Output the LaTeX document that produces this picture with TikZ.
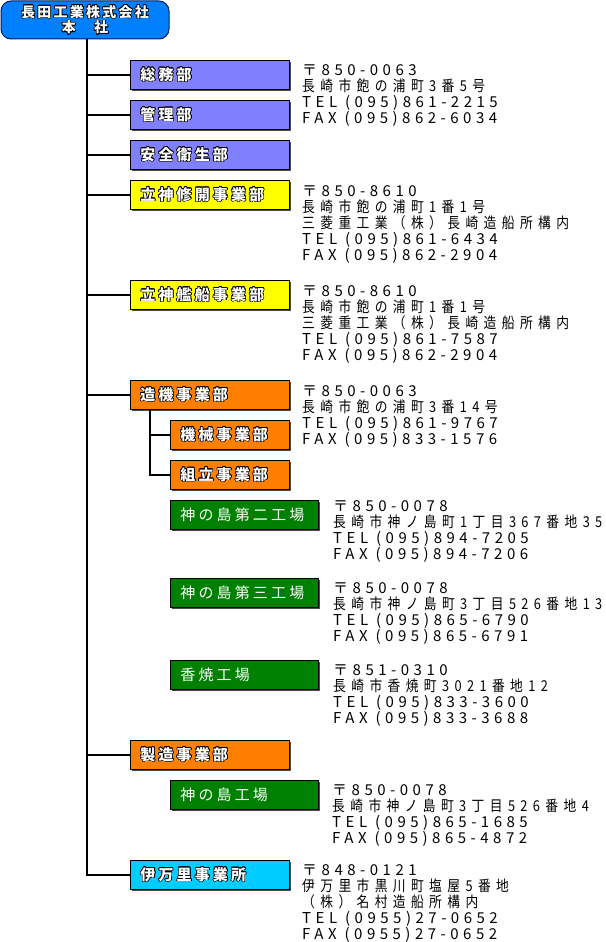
\documentclass[tikz,border=0pt]{standalone}
\usepackage{fontspec}
\usepackage{contour}
\usetikzlibrary{shadows}
\newfontfamily\addrfont[FakeStretch=0.85, LetterSpace=36]{Noto Sans CJK JP}
\newfontfamily\numfont[LetterSpace=30]{Noto Sans CJK JP}
\newfontfamily\labelfont[LetterSpace=21]{Noto Sans CJK JP}
\newfontfamily\headfont[LetterSpace=16]{Noto Sans CJK JP}
\contourlength{0.6pt}
\definecolor{headblue}{RGB}{0,128,255}
\definecolor{headline}{RGB}{0,32,96}
\definecolor{staffblue}{RGB}{128,128,255}
\definecolor{shipyellow}{RGB}{255,255,0}
\definecolor{machorange}{RGB}{255,128,0}
\definecolor{plantgreen}{RGB}{0,128,0}
\definecolor{imaricyan}{RGB}{0,204,255}
\newcommand\outl[1]{\contour{black}{#1}}
\newcommand\num[1]{{\numfont #1}}
\newcommand\tsp{\hspace{8pt}}
\tikzstyle{unit} = [draw=black, line width=0.8pt, minimum height=29pt, anchor=north west,
  inner xsep=10pt, inner ysep=0pt, align=left, text=white,
  font=\labelfont\bfseries\fontsize{15}{16}\selectfont,
  drop shadow={shadow xshift=1.2pt, shadow yshift=-1.2pt, fill=black!70, opacity=1}]
\tikzstyle{wide} = [unit, text width=139pt]
\tikzstyle{narrow} = [unit, text width=99pt]
\tikzstyle{plant} = [unit, text width=128pt, fill=plantgreen, font=\labelfont\fontsize{15}{16}\selectfont]
\tikzstyle{addrbox} = [anchor=base west, inner sep=0pt, text width=290pt, align=left,
  font=\addrfont\fontsize{15}{16}\selectfont]
\tikzstyle{wire} = [line width=2pt, black]
\begin{document}
\begin{tikzpicture}[x=1pt, y=-1pt]
\useasboundingbox (0,0) rectangle (605,942);
% head office
\node[draw=headline, line width=1pt, fill=headblue, rounded corners=10pt, anchor=north west,
  minimum width=168pt, minimum height=38pt, inner sep=0pt, align=center, text=white,
  font=\headfont\bfseries\fontsize{14}{15.5}\selectfont] (head) at (0.5,0.5)
  {\outl{長田工業株式会社}\\\outl{本　社}};
% departments
\node[wide, fill=staffblue] (soumu) at (130,60) {\outl{総務部}};
\node[wide, fill=staffblue] (kanri) at (130,100) {\outl{管理部}};
\node[wide, fill=staffblue] (anzen) at (130,140) {\outl{安全衛生部}};
\node[wide, fill=shipyellow] (tateshu) at (130,180) {\outl{立神修開事業部}};
\node[wide, fill=shipyellow] (tatekan) at (130,280) {\outl{立神艦船事業部}};
\node[wide, fill=machorange] (zouki) at (130,380) {\outl{造機事業部}};
\node[narrow, fill=machorange] (kikai) at (170,420) {\outl{機械事業部}};
\node[narrow, fill=machorange] (kumitate) at (170,460) {\outl{組立事業部}};
\node[plant] (kami2) at (170,500) {神の島第二工場};
\node[plant] (kami3) at (170,578) {神の島第三工場};
\node[plant] (koyagi) at (170,660) {香焼工場};
\node[wide, fill=machorange] (seizou) at (130,740) {\outl{製造事業部}};
\node[plant] (kami) at (170,780) {神の島工場};
\node[wide, fill=imaricyan] (imari) at (130,860) {\outl{伊万里事業所}};
% addresses
\node[addrbox] (a-soumu) at (302,76) {\num{〒850-0063}\\長崎市飽の浦町3番5号\\\num{TEL\tsp(095)861-2215}\\\num{FAX\tsp(095)862-6034}};
\node[addrbox] (a-tateshu) at (302,196) {\num{〒850-8610}\\長崎市飽の浦町1番1号\\三菱重工業（株）長崎造船所構内\\\num{TEL\tsp(095)861-6434}\\\num{FAX\tsp(095)862-2904}};
\node[addrbox] (a-tatekan) at (302,296) {\num{〒850-8610}\\長崎市飽の浦町1番1号\\三菱重工業（株）長崎造船所構内\\\num{TEL\tsp(095)861-7587}\\\num{FAX\tsp(095)862-2904}};
\node[addrbox] (a-zouki) at (302,396) {\num{〒850-0063}\\長崎市飽の浦町3番14号\\\num{TEL\tsp(095)861-9767}\\\num{FAX\tsp(095)833-1576}};
\node[addrbox] (a-kami2) at (333,511) {\num{〒850-0078}\\長崎市神ノ島町1丁目367番地35\\\num{TEL\tsp(095)894-7205}\\\num{FAX\tsp(095)894-7206}};
\node[addrbox] (a-kami3) at (333,593) {\num{〒850-0078}\\長崎市神ノ島町3丁目526番地13\\\num{TEL\tsp(095)865-6790}\\\num{FAX\tsp(095)865-6791}};
\node[addrbox] (a-koyagi) at (333,675) {\num{〒851-0310}\\長崎市香焼町3021番地12\\\num{TEL\tsp(095)833-3600}\\\num{FAX\tsp(095)833-3688}};
\node[addrbox] (a-kami) at (332,795) {\num{〒850-0078}\\長崎市神ノ島町3丁目526番地4\\\num{TEL\tsp(095)865-1685}\\\num{FAX\tsp(095)865-4872}};
\node[addrbox] (a-imari) at (302,875) {\num{〒848-0121}\\伊万里市黒川町塩屋5番地\\（株）名村造船所構内\\\num{TEL\tsp(0955)27-0652}\\\num{FAX\tsp(0955)27-0652}};
% connectors
\coordinate (trunk) at (87,39);
\draw[wire] (trunk) |- (imari.west);
\foreach \b in {soumu,kanri,anzen,tateshu,tatekan,zouki,seizou}
  \draw[wire] (trunk |- \b.west) -- (\b.west);
\coordinate (subtrunk) at ([xshift=20pt]zouki.south west);
\draw[wire] (subtrunk) |- (kumitate.west);
\draw[wire] (subtrunk |- kikai.west) -- (kikai.west);
\end{tikzpicture}
\end{document}
